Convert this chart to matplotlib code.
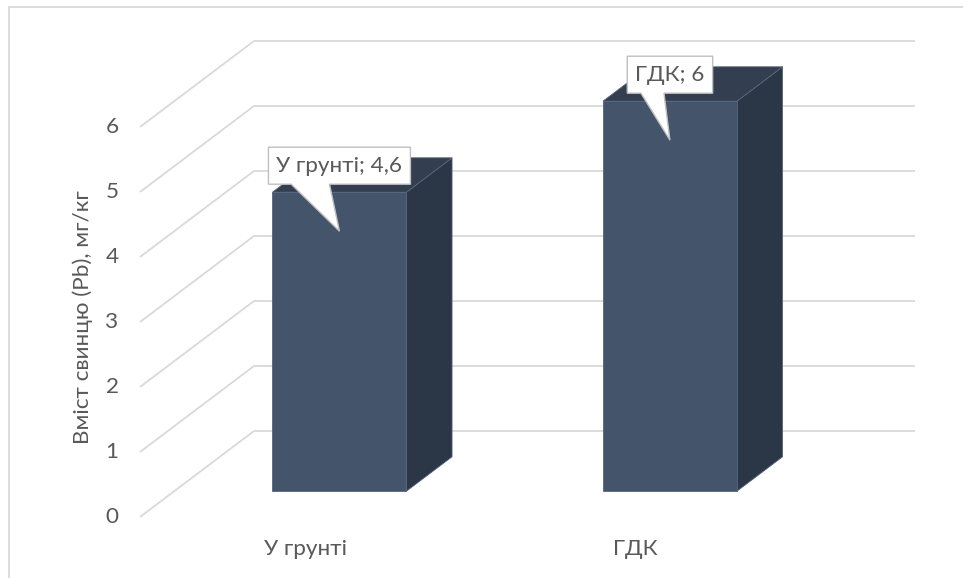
import matplotlib
matplotlib.use("Agg")
import matplotlib.pyplot as plt
from matplotlib.patches import Polygon
from matplotlib.lines import Line2D
import numpy as np

categories = ["У грунті", "ГДК"]
values = [4.6, 6]
value_labels = ["4,6", "6"]
y_ticks = [0, 1, 2, 3, 4, 5, 6]
y_label = "Вміст свинцю (Pb), мг/кг"

FRONT = "#44546A"
TOP = "#333F50"
SIDE = "#2B3646"
GRID = "#D9D9D9"
TXT = "#595959"
FONT = "Lato"
FS = 16.2

W, H, DPI = 963, 578, 100
fig = plt.figure(figsize=(W / DPI, H / DPI), dpi=DPI)
ax = fig.add_axes([0, 0, 1, 1])
ax.set_axis_off()

# layout: pixel scale of axes
px_per_cat = 330.5
px_per_val = 65.0
x0_px, y0_px = 140.0, 517.0  # front-left floor corner (from top)
ax.set_xlim(-0.5 - x0_px / px_per_cat, -0.5 + (W - x0_px) / px_per_cat)
ax.set_ylim(-(H - y0_px) / px_per_val, y0_px / px_per_val)

# depth (oblique projection)
DX = 114 / px_per_cat
DY = 86 / px_per_val
d_front, d_back = 0.30, 0.70
bar_w = 134 / px_per_cat
ncat = len(categories)
xmin, xmax = -0.5, ncat - 0.5


def P(x, v, d):
    return (x + d * DX, v + d * DY)


# gridlines (left wall diagonal + back wall horizontal)
for t in y_ticks:
    a = P(xmin, t, 0)
    b = P(xmin, t, 1)
    c = P(xmax, t, 1)
    ax.plot([a[0], b[0], c[0]], [a[1], b[1], c[1]], color=GRID, lw=1.3,
            solid_capstyle="butt", zorder=1)
    ax.text(a[0] - 28 / px_per_cat, t + 0.0, str(t), ha="center", va="center",
            fontsize=FS, color=TXT, family=FONT)

# bars
for i, v in enumerate(values):
    xl = i - bar_w / 2
    xr = i + bar_w / 2
    front = [P(xl, 0, d_front), P(xr, 0, d_front), P(xr, v, d_front), P(xl, v, d_front)]
    top = [P(xl, v, d_front), P(xr, v, d_front), P(xr, v, d_back), P(xl, v, d_back)]
    side = [P(xr, 0, d_front), P(xr, 0, d_back), P(xr, v, d_back), P(xr, v, d_front)]
    for poly, col in ((side, SIDE), (top, TOP), (front, FRONT)):
        ax.add_patch(Polygon(poly, closed=True, facecolor=col, edgecolor="#56657C",
                             lw=0.6, joinstyle="miter", zorder=3))
    ax.text(i, -32 / px_per_val, categories[i], ha="center", va="center",
            fontsize=FS, color=TXT, family=FONT)

ax.text(xmin - 57 / px_per_cat, 200 / px_per_val, y_label, rotation=90,
        ha="center", va="center", fontsize=FS, color=TXT, family=FONT)

# callouts
fig.canvas.draw()
r = fig.canvas.get_renderer()
inv = ax.transData.inverted()
for i, v in enumerate(values):
    cx, cy = ax.transData.transform(P(i, v, d_front))  # display px (origin bottom)
    box_bot = cy + 8
    box_h = 37
    tip = (cx, cy - 39)
    txt = ax.text(0, 0, f"{categories[i]}; {value_labels[i]}", ha="center",
                  va="center", fontsize=FS, color=TXT, family=FONT, zorder=6)
    ext = txt.get_window_extent(r)
    bw = ext.width + 16
    left = cx - bw / 2
    right = cx + bw / 2
    top_ = box_bot + box_h
    b1 = left + 0.16 * bw
    b2 = left + 0.43 * bw
    pts = [(left, box_bot), (b1, box_bot), tip, (b2, box_bot), (right, box_bot),
           (right, top_), (left, top_)]
    pts_d = inv.transform(pts)
    ax.add_patch(Polygon(pts_d, closed=True, facecolor="white", edgecolor="#BFBFBF",
                         lw=1.0, zorder=5, joinstyle="miter"))
    txt.set_position(inv.transform((cx, box_bot + box_h / 2)))

# chart area border (top and left visible)
fig.add_artist(Line2D([8.5 / W, 8.5 / W], [0, 1 - 6.5 / H], transform=fig.transFigure,
                      color=GRID, lw=1.3))
fig.add_artist(Line2D([8.5 / W, 1], [1 - 6.5 / H, 1 - 6.5 / H], transform=fig.transFigure,
                      color=GRID, lw=1.3))

fig.savefig("out.png", dpi=DPI, facecolor="white")
